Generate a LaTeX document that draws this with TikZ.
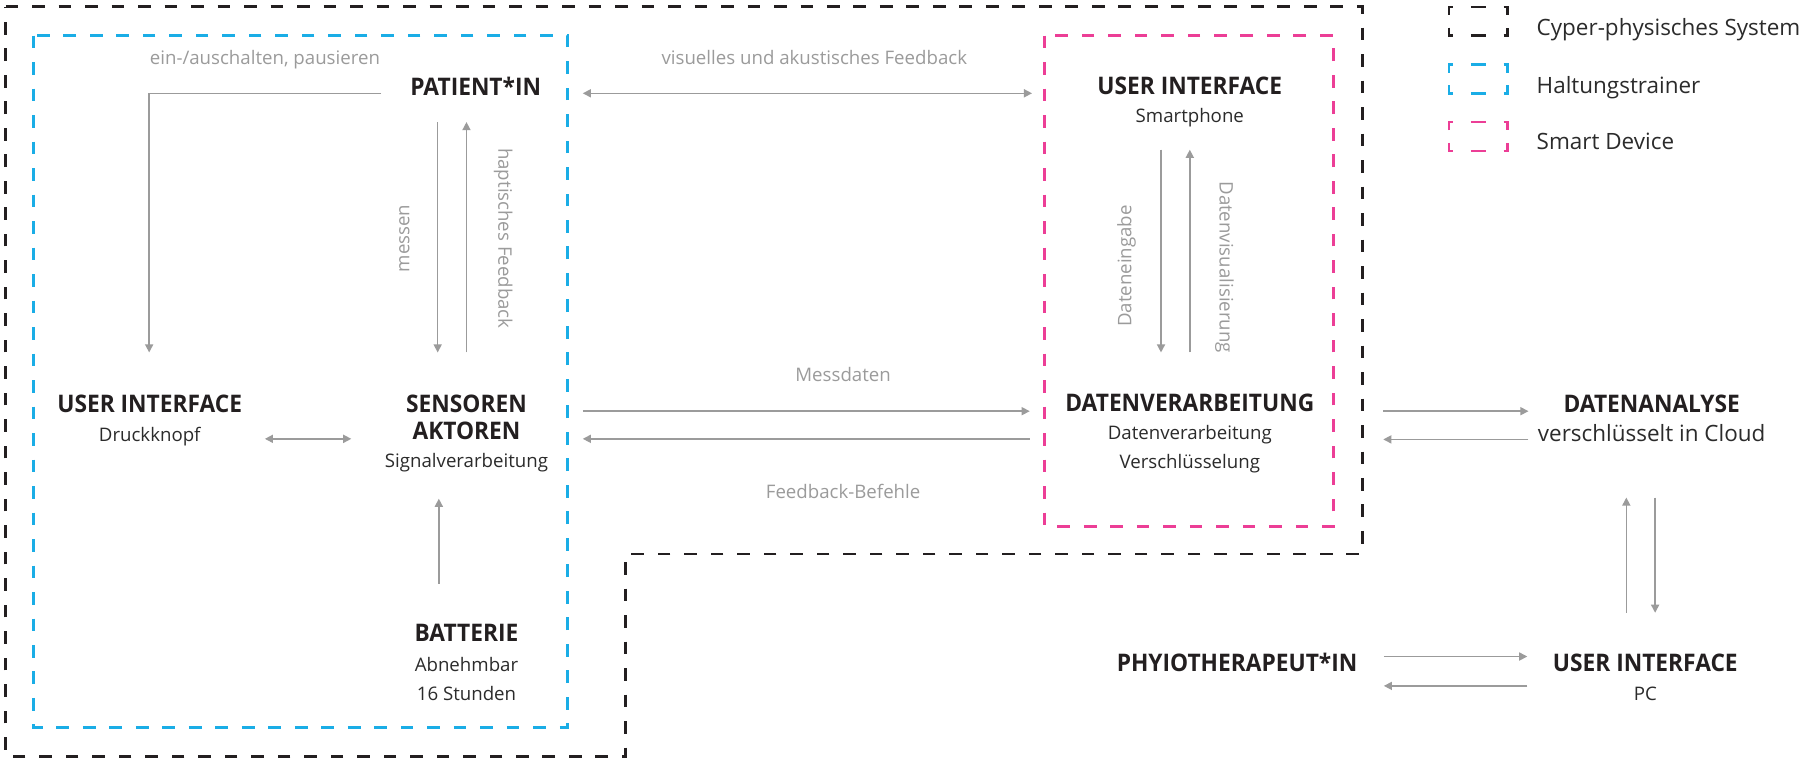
\documentclass[tikz,border=0pt]{standalone}
\usepackage{fontspec}
\setmainfont{Open Sans}
\newfontfamily\headfont{Open Sans}[FakeStretch=0.94]
\usetikzlibrary{arrows.meta}
\definecolor{ink}{HTML}{231F20}
\definecolor{subink}{HTML}{2B2B2B}
\definecolor{lbl}{HTML}{9B9B9B}
\definecolor{arr}{HTML}{9B9B9B}
\definecolor{cyanb}{HTML}{1AADE6}
\definecolor{pinkb}{HTML}{EC3E96}
\definecolor{blackb}{HTML}{231F20}
\newcommand\LegBox[3]{%
  \begin{scope}[shift={(#2,#3)},line width=2.4pt,draw=#1]
    \draw (0,7) -- (0,0) -- (3.5,0);
    \draw (19,0) -- (32,0);
    \draw (47.5,0) -- (51,0) -- (51,7);
    \draw (0,18) -- (0,25) -- (3.5,25);
    \draw (19,25) -- (32,25);
    \draw (47.5,25) -- (51,25) -- (51,18);
  \end{scope}}
\begin{document}
\begin{tikzpicture}[x=1pt,y=-1pt,
  head/.style={anchor=base,inner sep=0pt,text=ink,font=\fontsize{21}{25}\headfont\bfseries},
  subt/.style={anchor=base,inner sep=0pt,text=subink,font=\fontsize{16.2}{20}\selectfont},
  lab/.style={anchor=base,inner sep=0pt,text=lbl,font=\fontsize{16.2}{20}\selectfont},
  vlab/.style={inner sep=0pt,text=lbl,font=\fontsize{16.2}{20}\selectfont},
  big/.style={anchor=base,inner sep=0pt,text=subink,font=\fontsize{19.5}{24}\selectfont},
  conn/.style={draw=arr,line width=1.25pt,-{Triangle[length=7pt,width=7pt]}},
  dconn/.style={draw=arr,line width=1.25pt,{Triangle[length=7pt,width=7pt]}-{Triangle[length=7pt,width=7pt]}},
  frame/.style={line width=2.5pt,dash pattern=on 11pt off 12pt}
]
\fill[white] (0,0) rectangle (1568,666);
\useasboundingbox (0,0) rectangle (1568,666);

% frames
\draw[frame,blackb] (5,6) -- (1183,6) -- (1183,481) -- (543,481) -- (543,657) -- (5,657) -- cycle;
\draw[frame,cyanb] (29,31) rectangle (493,632);
\draw[frame,pinkb] (907,31) rectangle (1158,457);

% legend
\LegBox{blackb}{1258}{6}
\LegBox{cyanb}{1258}{56}
\LegBox{pinkb}{1258}{106}
\node[big,anchor=base west] (lg1) at (1334,31) {Cyper-physisches System};
\node[big,anchor=base west] (lg2) at (1334,81) {Haltungstrainer};
\node[big,anchor=base west] (lg3) at (1334,130) {Smart Device};

% texts
\node[lab] (l1) at (230,56) {ein-/auschalten, pausieren};
\node[head] (pat) at (413,83) {PATIENT*IN};
\node[lab] (l2) at (707,56) {visuelles und akustisches Feedback};
\node[head] (uis) at (1033,82) {USER INTERFACE};
\node[subt] (uis2) at (1033,106) {Smartphone};
\node[head] (uid) at (130,358) {USER INTERFACE};
\node[subt] (uid2) at (130,383) {Druckknopf};
\node[head] (sen) at (405,358) {SENSOREN};
\node[head] (akt) at (405,382) {AKTOREN};
\node[subt] (sig) at (405,406) {Signalverarbeitung};
\node[head] (bat) at (405,557) {BATTERIE};
\node[subt] (bat2) at (405,583) {Abnehmbar};
\node[subt] (bat3) at (405,608) {16 Stunden};
\node[lab] (mess) at (732,331.5) {Messdaten};
\node[lab] (fb) at (732,432.5) {Feedback-Befehle};
\node[head] (dv) at (1033,357.5) {DATENVERARBEITUNG};
\node[subt] (dv2) at (1033,382) {Datenverarbeitung};
\node[subt] (dv3) at (1033,407) {Verschlüsselung};
\node[head] (da) at (1434,358) {DATENANALYSE};
\node[big] (da2) at (1434,383) {verschlüsselt in Cloud};
\node[head] (phy) at (1074,583) {PHYIOTHERAPEUT*IN};
\node[head] (uipc) at (1428.5,583) {USER INTERFACE};
\node[subt] (pc) at (1428.5,608) {PC};

\node[vlab,rotate=90] (mes) at (351,207) {messen};
\node[vlab,rotate=-90] (hap) at (437,207) {haptisches Feedback};
\node[vlab,rotate=90] (dein) at (978,231) {Dateneingabe};
\node[vlab,rotate=-90] (dvis) at (1063,232) {Datenvisualisierung};

% connector end points
\coordinate (a1s) at (331,81);
\coordinate (a1e) at (129.5,306);
\coordinate (m1) at (380,106);
\coordinate (m2) at (380,306);
\coordinate (h1) at (405,306);
\coordinate (h2) at (405,106);
\coordinate (d1) at (230,381);
\coordinate (d2) at (305,381);
\coordinate (b1) at (381,507);
\coordinate (b2) at (381,433);
\coordinate (v1) at (506,81);
\coordinate (v2) at (896,81);
\coordinate (md1) at (506,357);
\coordinate (md2) at (894,357);
\coordinate (fb1) at (894,381);
\coordinate (fb2) at (506,381);
\coordinate (s1) at (1008,130);
\coordinate (s2) at (1008,306);
\coordinate (s3) at (1033,306);
\coordinate (s4) at (1033,130);
\coordinate (c1) at (1201,357);
\coordinate (c2) at (1327,357);
\coordinate (c3) at (1327,381.5);
\coordinate (c4) at (1201,381.5);
\coordinate (k1) at (1412,532);
\coordinate (k2) at (1412,432);
\coordinate (k3) at (1437,432);
\coordinate (k4) at (1437,532);
\coordinate (p1) at (1201.5,570);
\coordinate (p2) at (1326,570);
\coordinate (p3) at (1326,595.5);
\coordinate (p4) at (1201.5,595.5);

% connectors
\draw[conn] (a1s) -| (a1e);
\draw[conn] (m1) -- (m2);
\draw[conn] (h1) -- (h2);
\draw[dconn] (d1) -- (d2);
\draw[conn] (b1) -- (b2);
\draw[dconn] (v1) -- (v2);
\draw[conn] (md1) -- (md2);
\draw[conn] (fb1) -- (fb2);
\draw[conn] (s1) -- (s2);
\draw[conn] (s3) -- (s4);
\draw[conn] (c1) -- (c2);
\draw[conn] (c3) -- (c4);
\draw[conn] (k1) -- (k2);
\draw[conn] (k3) -- (k4);
\draw[conn] (p1) -- (p2);
\draw[conn] (p3) -- (p4);
\end{tikzpicture}
\end{document}
